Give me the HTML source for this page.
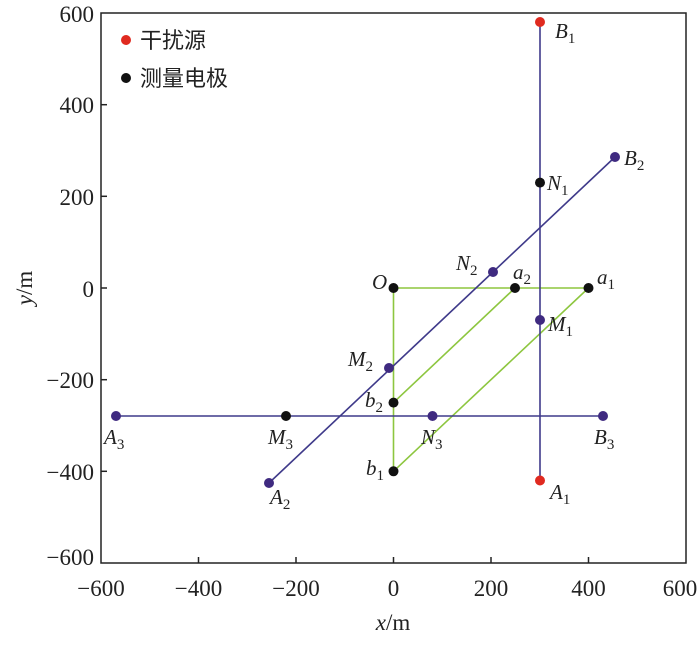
<!DOCTYPE html>
<html><head><meta charset="utf-8"><style>
body{margin:0;background:#fff}
svg text{font-family:"Liberation Serif","Noto Serif CJK SC",serif;fill:#222}
.l{font-style:italic;font-size:21px}
.s{font-size:15px;font-style:normal}
.t{font-size:23px}
</style></head><body>
<svg width="700" height="640" viewBox="0 0 700 640">
<rect x="101" y="13" width="585" height="550" fill="none" stroke="#222" stroke-width="1.5"/>
<g stroke="#222" stroke-width="1.5">
<line x1="198.5" y1="563" x2="198.5" y2="557"/><line x1="296" y1="563" x2="296" y2="557"/><line x1="393.5" y1="563" x2="393.5" y2="557"/><line x1="491" y1="563" x2="491" y2="557"/><line x1="588.5" y1="563" x2="588.5" y2="557"/>
<line x1="101" y1="104.7" x2="107" y2="104.7"/><line x1="101" y1="196.3" x2="107" y2="196.3"/><line x1="101" y1="288" x2="107" y2="288"/><line x1="101" y1="379.7" x2="107" y2="379.7"/><line x1="101" y1="471.3" x2="107" y2="471.3"/>
</g>
<g class="t" text-anchor="middle">
<text x="101" y="596">−600</text><text x="198.5" y="596">−400</text><text x="296" y="596">−200</text><text x="393.5" y="596">0</text><text x="491" y="596">200</text><text x="588.5" y="596">400</text><text x="680" y="596">600</text>
</g>
<g class="t" text-anchor="end">
<text x="94" y="22">600</text><text x="94" y="113">400</text><text x="94" y="205">200</text><text x="94" y="297">0</text><text x="94" y="388">−200</text><text x="94" y="480">−400</text><text x="94" y="565">−600</text>
</g>
<text x="393" y="630" class="t" text-anchor="middle"><tspan font-style="italic">x</tspan>/m</text>
<text transform="translate(32,288) rotate(-90)" class="t" text-anchor="middle"><tspan font-style="italic">y</tspan>/m</text>
<circle cx="126" cy="40" r="5" fill="#e02a20"/><text x="140" y="48" font-size="22" style="font-family:'Noto Sans CJK SC',sans-serif">干扰源</text>
<circle cx="126" cy="78" r="5" fill="#111"/><text x="140" y="86" font-size="22" style="font-family:'Noto Sans CJK SC',sans-serif">测量电极</text>
<g stroke="#8dc63f" stroke-width="1.6">
<line x1="393.5" y1="288" x2="588.5" y2="288"/><line x1="393.5" y1="288" x2="393.5" y2="471.3"/>
<line x1="515" y1="288" x2="393.5" y2="402.6"/><line x1="588.5" y1="288" x2="393.5" y2="471.3"/>
</g>
<g stroke="#3f3a8a" stroke-width="1.6">
<line x1="540" y1="22" x2="540" y2="480.5"/><line x1="269" y1="483" x2="615" y2="157"/><line x1="116" y1="416" x2="603" y2="416"/>
</g>
<g fill="#3f2a80">
<circle cx="615" cy="157" r="5"/><circle cx="269" cy="483" r="5"/><circle cx="116" cy="416" r="5"/><circle cx="603" cy="416" r="5"/>
<circle cx="493" cy="272" r="5"/><circle cx="389" cy="368" r="5"/><circle cx="540" cy="320" r="5"/><circle cx="432.5" cy="416" r="5"/>
</g>
<g fill="#111">
<circle cx="540" cy="182.6" r="5"/><circle cx="286" cy="416" r="5"/><circle cx="393.5" cy="288" r="5"/><circle cx="515" cy="288" r="5"/><circle cx="588.5" cy="288" r="5"/><circle cx="393.5" cy="402.6" r="5"/><circle cx="393.5" cy="471.3" r="5"/>
</g>
<circle cx="540" cy="22" r="5" fill="#e02a20"/><circle cx="540" cy="480.5" r="5" fill="#e02a20"/>
<g class="l">
<text x="555" y="38">B<tspan class="s" dy="5">1</tspan></text>
<text x="550" y="499">A<tspan class="s" dy="5">1</tspan></text>
<text x="624" y="165">B<tspan class="s" dy="5">2</tspan></text>
<text x="270" y="504">A<tspan class="s" dy="5">2</tspan></text>
<text x="104" y="444">A<tspan class="s" dy="5">3</tspan></text>
<text x="594" y="444">B<tspan class="s" dy="5">3</tspan></text>
<text x="547" y="190">N<tspan class="s" dy="5">1</tspan></text>
<text x="548" y="331">M<tspan class="s" dy="5">1</tspan></text>
<text x="456" y="270">N<tspan class="s" dy="5">2</tspan></text>
<text x="348" y="366">M<tspan class="s" dy="5">2</tspan></text>
<text x="268" y="444">M<tspan class="s" dy="5">3</tspan></text>
<text x="421" y="444">N<tspan class="s" dy="5">3</tspan></text>
<text x="372" y="289">O</text>
<text x="513" y="279">a<tspan class="s" dy="5">2</tspan></text>
<text x="597" y="284">a<tspan class="s" dy="5">1</tspan></text>
<text x="365" y="407">b<tspan class="s" dy="5">2</tspan></text>
<text x="366" y="475">b<tspan class="s" dy="5">1</tspan></text>
</g>
</svg>
</body></html>
